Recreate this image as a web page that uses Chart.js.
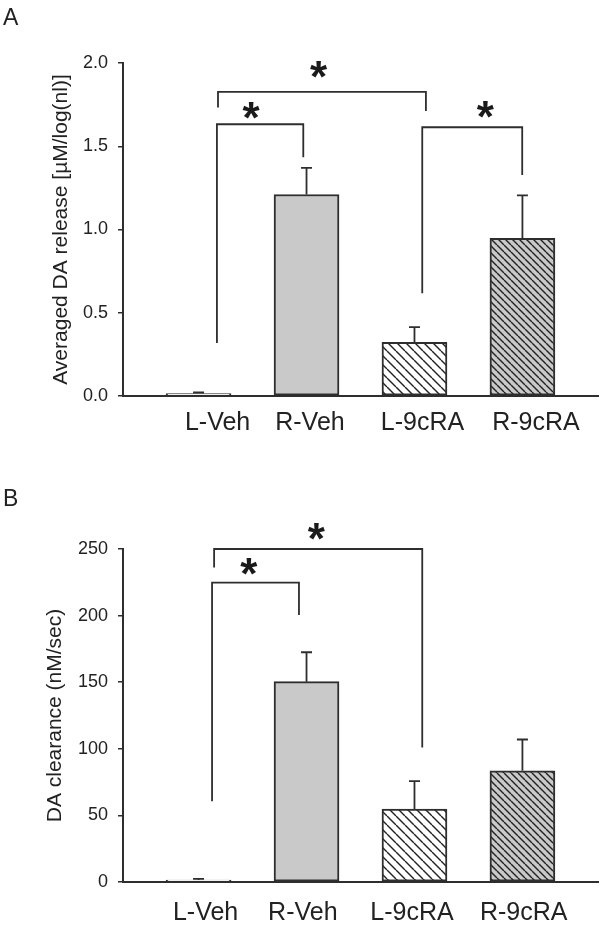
<!DOCTYPE html>
<html><head><meta charset="utf-8">
<script src="https://cdn.jsdelivr.net/npm/chart.js@4.4.1/dist/chart.umd.min.js"></script>
<style>
html,body{margin:0;padding:0;background:#fff;}
#wrap{position:relative;width:600px;height:929px;overflow:hidden;background:#fff;}
canvas{position:absolute;left:0;}
.panel{position:absolute;left:3px;font:23px "Liberation Sans",Arial,sans-serif;color:#222;line-height:1;}
</style></head><body>
<div id="wrap">
<canvas id="cA" width="600" height="465" style="top:0"></canvas>
<canvas id="cB" width="600" height="464" style="top:465px"></canvas>
<div class="panel" style="top:5.5px">A</div>
<div class="panel" style="top:486.5px">B</div>
</div>
<script>
// ---------- data ----------
const categories = ['L-Veh', 'R-Veh', 'L-9cRA', 'R-9cRA'];

// Panel A: Averaged DA release [µM/log(nl)]
const releaseMeans = [0.015, 1.21, 0.322, 0.947];
const releaseSEM   = [0.006, 0.16, 0.092, 0.258];
const releaseTicks = [0, 0.5, 1.0, 1.5, 2.0];
const releaseLabelPos = [0.176, 1.032, 2.074, 3.125];
// significance brackets: [fromX, toX, topY, leftEndY, rightEndY]
const releaseBrackets = [
  [0.17, 0.97, 1.632, 0.318, 1.434],
  [0.18, 2.106, 1.826, 1.732, 1.712],
  [2.072, 2.998, 1.614, 0.617, 1.327]
];
const releaseStars = [[0.49, 1.713], [1.116, 1.96], [2.66, 1.718]];

// Panel B: DA clearance (nM/sec)
const clearanceMeans = [1.5, 150.4, 54.7, 83.5];
const clearanceSEM   = [0.8, 22.1, 21.0, 23.5];
const clearanceTicks = [0, 50, 100, 150, 200, 250];
const clearanceLabelPos = [0.065, 0.966, 1.977, 3.012];
const clearanceBrackets = [
  [0.125, 0.93, 224.8, 60.7, 200.5],
  [0.144, 2.072, 250, 236.1, 101]
];
const clearanceStars = [[0.47, 236.8], [1.094, 263.2]];

// ---------- styling ----------
const FONT = '"Liberation Sans", Arial, sans-serif';
Chart.defaults.font.family = FONT;
const INK = '#2e2e2e';
const GRAY = '#c9c9c9';

function hatch(period, bg) {
  const c = document.createElement('canvas');
  c.width = period; c.height = period;
  const g = c.getContext('2d');
  g.fillStyle = bg; g.fillRect(0, 0, period, period);
  g.strokeStyle = '#222'; g.lineWidth = 1.4;
  for (let k = -1; k <= 1; k++) {
    g.beginPath(); g.moveTo(k * period, 0); g.lineTo(k * period + period, period); g.stroke();
  }
  return g.createPattern(c, 'repeat');
}
const fills = ['#ffffff', GRAY, hatch(9, '#ffffff'), hatch(7, GRAY)];

function makeOverlay(means, sems, brackets, stars) {
  return {
    id: 'overlay',
    afterDatasetsDraw(chart) {
      const {ctx, scales: {x, y}} = chart;
      ctx.save();
      ctx.strokeStyle = INK;
      ctx.lineWidth = 1.8;
      means.forEach((m, i) => {
        const px = x.getPixelForValue(i);
        const y0 = y.getPixelForValue(m);
        const y1 = y.getPixelForValue(m + sems[i]);
        ctx.beginPath();
        ctx.moveTo(px, y0); ctx.lineTo(px, y1);
        ctx.moveTo(px - 5.5, y1); ctx.lineTo(px + 5.5, y1);
        ctx.stroke();
      });
      ctx.lineWidth = 1.8;
      brackets.forEach(b => {
        const x1 = x.getPixelForValue(b[0]), x2 = x.getPixelForValue(b[1]);
        const yt = y.getPixelForValue(b[2]);
        ctx.beginPath();
        ctx.moveTo(x1, y.getPixelForValue(b[3]));
        ctx.lineTo(x1, yt); ctx.lineTo(x2, yt);
        ctx.lineTo(x2, y.getPixelForValue(b[4]));
        ctx.stroke();
      });
      ctx.fillStyle = '#1a1a1a';
      ctx.font = 'bold 44px ' + FONT;
      ctx.textBaseline = 'alphabetic';
      ctx.textAlign = 'left';
      const mt = ctx.measureText('*');
      stars.forEach(s => {
        const cx = x.getPixelForValue(s[0]), cy = y.getPixelForValue(s[1]);
        const bx = cx - (mt.actualBoundingBoxRight - mt.actualBoundingBoxLeft) / 2 + mt.actualBoundingBoxLeft;
        const by = cy - (mt.actualBoundingBoxDescent - mt.actualBoundingBoxAscent) / 2;
        ctx.fillText('*', bx, by);
      });
      ctx.restore();
    }
  };
}

function makeChart(id, means, sems, yTicks, labelPos, brackets, stars, cfg) {
  const yMax = yTicks[yTicks.length - 1];
  return new Chart(document.getElementById(id), {
    type: 'bar',
    data: {
      datasets: [{
        data: means.map((v, i) => ({x: i, y: v})),
        backgroundColor: fills,
        borderColor: INK,
        borderWidth: 2,
        borderSkipped: false,
        barThickness: 65
      }]
    },
    options: {
      responsive: false,
      animation: false,
      layout: {padding: {top: cfg.top, right: 2, left: 0, bottom: 0}},
      plugins: {legend: {display: false}, tooltip: {enabled: false}},
      scales: {
        x: {
          type: 'linear',
          min: -0.7, max: 3.7,
          offset: false,
          bounds: 'data',
          grid: {display: false, drawTicks: false, offset: false},
          border: {display: true, color: INK, width: 2},
          afterBuildTicks: s => { s.ticks = labelPos.map(v => ({value: v})); },
          afterFit: s => { s.height = cfg.xh; s.paddingLeft = 0; s.paddingRight = 0; },
          ticks: {
            callback: (v, i) => categories[i],
            color: '#222',
            font: {size: 25},
            padding: cfg.xpad,
            maxRotation: 0, autoSkip: false
          }
        },
        y: {
          min: 0, max: yMax,
          afterBuildTicks: s => { s.ticks = yTicks.map(v => ({value: v})); },
          afterFit: s => { s.width = 123; },
          grid: {drawOnChartArea: false, drawTicks: true, tickLength: 5, color: INK, lineWidth: 1.5},
          border: {display: true, color: INK, width: 2},
          ticks: {
            callback: cfg.fmt,
            color: '#222',
            font: {size: 18},
            padding: 10
          },
          title: {
            display: true,
            text: cfg.title,
            color: '#222',
            font: {size: 21},
            padding: {top: cfg.tpad, bottom: 0}
          }
        }
      }
    },
    plugins: [makeOverlay(means, sems, brackets, stars)]
  });
}

makeChart('cA', releaseMeans, releaseSEM, releaseTicks, releaseLabelPos, releaseBrackets, releaseStars,
  {top: 63, xh: 69, xpad: 12, tpad: 49, title: 'Averaged DA release [µM/log(nl)]', fmt: v => v.toFixed(1)});
makeChart('cB', clearanceMeans, clearanceSEM, clearanceTicks, clearanceLabelPos, clearanceBrackets, clearanceStars,
  {top: 84, xh: 47, xpad: 16, tpad: 43, title: 'DA clearance (nM/sec)', fmt: v => String(v)});
</script>
</body></html>
